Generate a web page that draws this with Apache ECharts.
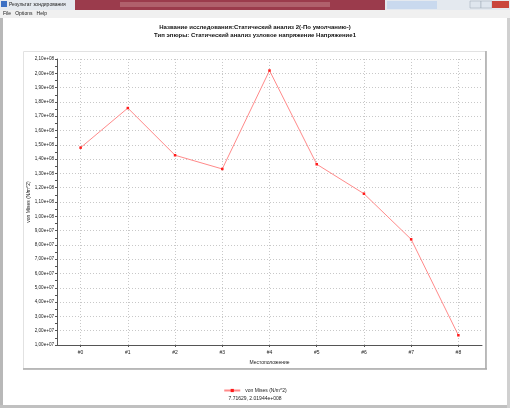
<!DOCTYPE html>
<html><head><meta charset="utf-8">
<script src="https://cdn.jsdelivr.net/npm/echarts@6/dist/echarts.min.js"></script>
<style>html,body{margin:0;padding:0;background:#fff}#c{width:510px;height:408px}</style>
</head><body><div id="c"></div>
<script>
const categories = ['#0','#1','#2','#3','#4','#5','#6','#7','#8'];
const vonMises = [1.48e8, 1.757e8, 1.427e8, 1.331e8, 2.01944e8, 1.364e8, 1.158e8, 0.839e8, 1.68e7];
const titleLine1 = 'Название исследования:Статический анализ 2(-По умолчанию-)';
const titleLine2 = 'Тип эпюры: Статический анализ узловое напряжение Напряжение1';
const seriesName = 'von Mises (N/m^2)';
const statusText = '7.71629, 2.01944e+008';

const F = '"Liberation Sans", Arial, sans-serif';
function fmt(v){
  const e = Math.floor(Math.log10(v) + 1e-9);
  const m = v / Math.pow(10, e);
  return m.toFixed(2).replace('.', ',') + 'e+' + (e < 10 ? '0' + e : e);
}
const chart = echarts.init(document.getElementById('c'), null, {renderer: 'canvas'});
chart.setOption({
  animation: false,
  backgroundColor: '#fff',
  title: {
    text: titleLine1 + '\n' + titleLine2,
    left: 'center', top: 19,
    textStyle: {fontFamily: F, fontSize: 6, fontWeight: 'bold', color: '#111', lineHeight: 7.5}
  },
  graphic: [
    {type: 'rect', z: -20, shape: {x: 0, y: 0, width: 510, height: 10}, style: {fill: '#e4e9ef'}},
    {type: 'rect', z: -19, shape: {x: 75, y: 0, width: 310, height: 10}, style: {fill: '#9b3b4c'}},
    {type: 'rect', z: -18, shape: {x: 120, y: 2, width: 210, height: 5}, style: {fill: '#b0606c'}},
    {type: 'rect', z: -18, shape: {x: 387, y: 1, width: 50, height: 8}, style: {fill: '#c9d9ee'}},
    {type: 'rect', z: -18, shape: {x: 470, y: 1, width: 11, height: 7}, style: {fill: '#dfe6ee', stroke: '#9aa5b3', lineWidth: 0.5}},
    {type: 'rect', z: -18, shape: {x: 481, y: 1, width: 11, height: 7}, style: {fill: '#dfe6ee', stroke: '#9aa5b3', lineWidth: 0.5}},
    {type: 'rect', z: -18, shape: {x: 492, y: 1, width: 17, height: 7}, style: {fill: '#c9453c'}},
    {type: 'rect', z: -17, shape: {x: 1, y: 1, width: 6, height: 6}, style: {fill: '#3a6fc4'}},
    {type: 'text', z: 5, left: 9, top: 2, style: {text: 'Результат зондирования', font: '5px ' + F, fill: '#222'}},
    {type: 'rect', z: -20, shape: {x: 0, y: 10, width: 510, height: 8}, style: {fill: '#f0f0f0'}},
    {type: 'text', z: 5, left: 3, top: 11, style: {text: 'File   Options   Help', font: '5px ' + F, fill: '#222'}},
    {type: 'rect', z: -20, shape: {x: 0, y: 18, width: 3, height: 390}, style: {fill: '#b8b8b8'}},
    {type: 'rect', z: -20, shape: {x: 0, y: 405, width: 510, height: 3}, style: {fill: '#c0c0c0'}},
    {type: 'rect', z: -20, shape: {x: 507, y: 18, width: 3, height: 390}, style: {fill: '#d0d0d0'}},
    {type: 'rect', z: -15, shape: {x: 23.5, y: 51.5, width: 462, height: 317}, style: {fill: '#fff', stroke: '#e2e2e2', lineWidth: 1}},
    {type: 'line', z: -14, shape: {x1: 486, y1: 51, x2: 486, y2: 369}, style: {stroke: '#a8a8a8', lineWidth: 1.5}},
    {type: 'line', z: -14, shape: {x1: 23, y1: 369, x2: 487, y2: 369}, style: {stroke: '#a8a8a8', lineWidth: 1.5}},
    {type: 'text', z: 5, left: 'center', top: 396, style: {text: statusText, font: '5px ' + F, fill: '#222'}}
  ],
  legend: {
    data: [seriesName], left: 'center', top: 383,
    itemWidth: 16, itemHeight: 4, itemGap: 4,
    textStyle: {fontFamily: F, fontSize: 5, color: '#222'}
  },
  grid: {left: 57, right: 28, top: 59, bottom: 63},
  xAxis: {
    type: 'category', data: categories, boundaryGap: true,
    name: 'Местоположение', nameLocation: 'middle', nameGap: 12,
    nameTextStyle: {fontFamily: F, fontSize: 5, color: '#222'},
    axisLine: {lineStyle: {color: '#555', width: 1}},
    axisTick: {show: true, alignWithLabel: true, length: 2, lineStyle: {color: '#555'}},
    axisLabel: {fontFamily: F, fontSize: 5, color: '#222', margin: 5},
    splitLine: {show: true, alignWithLabel: true, lineStyle: {color: '#c8c8c8', type: [1, 2], width: 1}}
  },
  yAxis: {
    type: 'value', min: 1e7, max: 2.1e8, interval: 1e7,
    name: seriesName, nameLocation: 'middle', nameGap: 26, nameMoveOverlap: false,
    nameTextStyle: {fontFamily: F, fontSize: 5, color: '#222'},
    axisLine: {show: true, lineStyle: {color: '#555', width: 1}},
    axisTick: {show: true, length: 2, lineStyle: {color: '#555'}},
    minorTick: {show: true, splitNumber: 2, length: 2, lineStyle: {color: '#555'}},
    axisLabel: {fontFamily: F, fontSize: 4.6, color: '#222', margin: 3, formatter: fmt},
    splitLine: {show: true, lineStyle: {color: '#c8c8c8', type: [1, 2], width: 1}}
  },
  series: [{
    name: seriesName, type: 'line', data: vonMises,
    symbol: 'rect', symbolSize: 2.5, showAllSymbol: true,
    lineStyle: {color: '#ff8a8a', width: 1},
    itemStyle: {color: '#ff1a1a'}
  }]
});
</script></body></html>
